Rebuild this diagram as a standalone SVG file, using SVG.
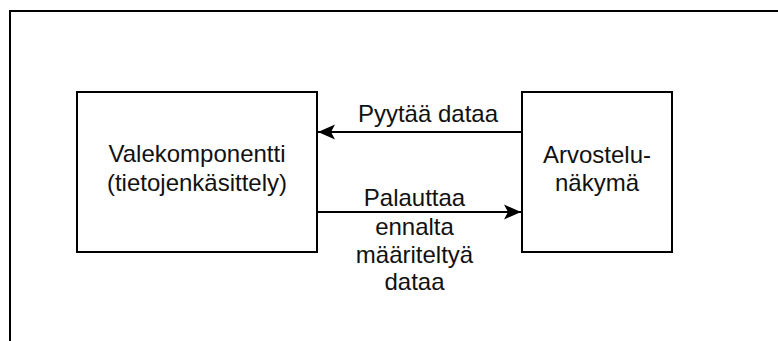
<svg xmlns="http://www.w3.org/2000/svg" width="778" height="341" viewBox="0 0 778 341">
  <defs>
    <style>
      .box { fill: #ffffff; stroke: #000000; stroke-width: 2; }
      .frame { fill: none; stroke: #000000; stroke-width: 2; }
      .edge { fill: none; stroke: #000000; stroke-width: 2; }
      .label { font-family: "Liberation Sans", Arial, Helvetica, sans-serif; font-size: 24px; fill: #111111; text-anchor: middle; }
    </style>
    <marker id="arrow" viewBox="0 0 18 16" refX="17" refY="8" markerWidth="18" markerHeight="16" markerUnits="userSpaceOnUse" orient="auto">
      <path d="M17,8 L0,0.5 L4,8 L0,15.5 Z" fill="#000000"/>
    </marker>
  </defs>

  <rect width="778" height="341" fill="#ffffff"/>

  <!-- outer frame, running past the right and bottom edges -->
  <rect class="frame" x="10" y="11" width="790" height="360"/>

  <g id="valekomponentti">
    <rect class="box" x="77" y="92" width="240" height="160"/>
    <text class="label" x="197" y="162">Valekomponentti</text>
    <text class="label" x="197" y="191">(tietojenkäsittely)</text>
  </g>

  <g id="arvostelunakyma">
    <rect class="box" x="522" y="92" width="150" height="160"/>
    <text class="label" x="597" y="163">Arvostelu-</text>
    <text class="label" x="597" y="191">näkymä</text>
  </g>

  <g id="connectors">
    <path class="edge" d="M521,132 L318,132" marker-end="url(#arrow)"/>
    <text class="label" x="428" y="122">Pyytää dataa</text>

    <path class="edge" d="M318,212 L521,212" marker-end="url(#arrow)"/>
    <text class="label" x="414.5" y="206">Palauttaa</text>
    <text class="label" x="414.5" y="235">ennalta</text>
    <text class="label" x="414.5" y="263">määriteltyä</text>
    <text class="label" x="414.5" y="290">dataa</text>
  </g>
</svg>
